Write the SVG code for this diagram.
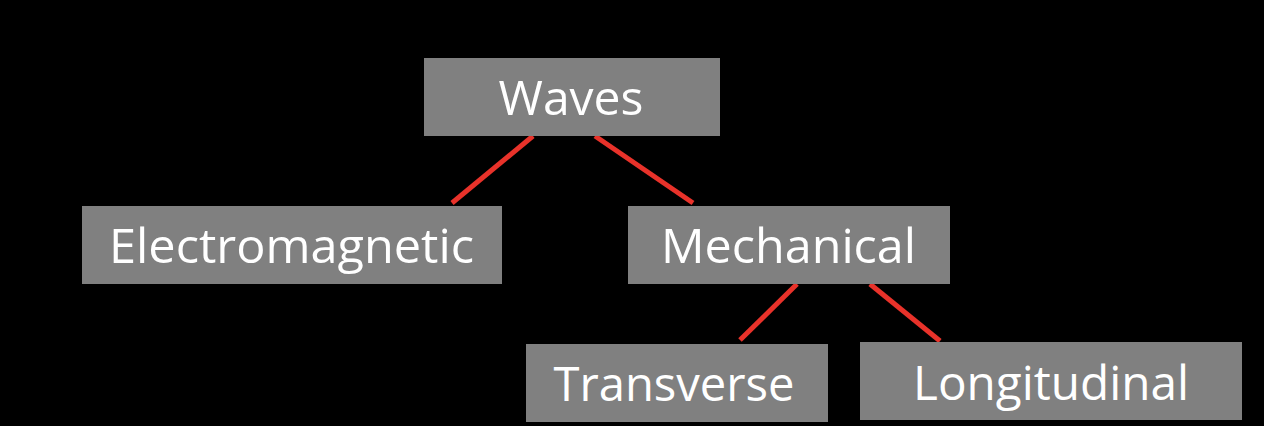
<svg xmlns="http://www.w3.org/2000/svg" width="1264" height="426" viewBox="0 0 1264 426">
<style>
.box{fill:#808080}
.lbl{fill:#ffffff;font-family:"Open Sans","Noto Sans","Liberation Sans",sans-serif;font-size:48px;text-anchor:middle}
.edge{stroke:#e8322a;stroke-width:5;fill:none}
</style>
<rect width="1264" height="426" fill="#000000"/>
<g id="connectors">
<line class="edge" x1="533" y1="136" x2="452" y2="203"/>
<line class="edge" x1="595" y1="136" x2="693" y2="203"/>
<line class="edge" x1="797" y1="284" x2="740" y2="340"/>
<line class="edge" x1="870" y1="284" x2="940" y2="341"/>
</g>
<g id="waves">
<rect class="box" x="424" y="58" width="296" height="78"/>
<text class="lbl" x="571" y="115" textLength="145" lengthAdjust="spacingAndGlyphs">Waves</text>
</g>
<g id="electromagnetic">
<rect class="box" x="82" y="206" width="420" height="78"/>
<text class="lbl" x="291.5" y="263" textLength="365" lengthAdjust="spacingAndGlyphs">Electromagnetic</text>
</g>
<g id="mechanical">
<rect class="box" x="628" y="206" width="322" height="78"/>
<text class="lbl" x="788.5" y="263" textLength="255" lengthAdjust="spacingAndGlyphs">Mechanical</text>
</g>
<g id="transverse">
<rect class="box" x="526" y="344" width="302" height="78"/>
<text class="lbl" x="674" y="401" textLength="241" lengthAdjust="spacingAndGlyphs">Transverse</text>
</g>
<g id="longitudinal">
<rect class="box" x="860" y="342" width="382" height="78"/>
<text class="lbl" x="1051" y="400" textLength="276" lengthAdjust="spacingAndGlyphs">Longitudinal</text>
</g>
</svg>
